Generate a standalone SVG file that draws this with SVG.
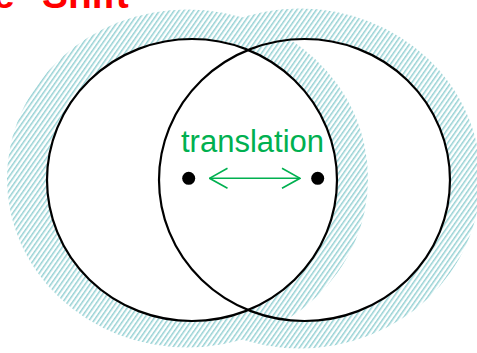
<svg xmlns="http://www.w3.org/2000/svg" width="477" height="353" viewBox="0 0 477 353">
<style>
.hatch{fill:url(#hatch);}
.blank{fill:#ffffff;stroke:none;}
.ring{fill:none;stroke:#000000;stroke-width:2.2;}
.dot{fill:#000000;}
.arrow{fill:none;stroke:#00b050;stroke-width:1.6;}
.label{font-family:"Liberation Sans",Arial,sans-serif;font-size:31px;fill:#00b050;}
.title{font-family:"Liberation Sans",Arial,sans-serif;font-size:39px;font-weight:bold;fill:#ff0000;}
</style>
<defs>
<pattern id="hatch" patternUnits="userSpaceOnUse" width="4" height="10" patternTransform="rotate(35)">
<rect x="0" y="0" width="4" height="10" fill="#ffffff"/>
<rect x="0" y="0" width="1.5" height="10" fill="#96d1d4"/>
</pattern>
<marker id="open" viewBox="0 0 20 22" refX="19" refY="11" markerWidth="20" markerHeight="22" markerUnits="userSpaceOnUse" orient="auto-start-reverse">
<path d="M1,1 L19,11 L1,21" fill="none" stroke="#00b050" stroke-width="1.6"/>
</marker>
</defs>
<text class="title" y="8"><tspan x="-7">e</tspan><tspan x="42">Shift</tspan></text>
<g id="shape-right-hatch">
<ellipse class="hatch" cx="300" cy="178.5" rx="180.5" ry="170"/>
<ellipse class="blank" cx="304.5" cy="180" rx="145.5" ry="141"/>
</g>
<g id="shape-left-hatch">
<ellipse class="hatch" cx="187.5" cy="178.5" rx="180.5" ry="169"/>
<ellipse class="blank" cx="192" cy="180" rx="145" ry="141"/>
</g>
<g id="circle-left">
<ellipse class="ring" cx="192" cy="180" rx="145" ry="141"/>
<circle class="dot" cx="188.7" cy="178.3" r="6.5"/>
</g>
<g id="circle-right">
<ellipse class="ring" cx="304.5" cy="180" rx="145.5" ry="141"/>
<circle class="dot" cx="317.7" cy="178.3" r="6.5"/>
</g>
<g id="connectors">
<line class="arrow" x1="209.5" y1="178.3" x2="300" y2="178.3" marker-start="url(#open)" marker-end="url(#open)"/>
</g>
<g id="label-translation">
<text class="label" x="252.5" y="152" text-anchor="middle">translation</text>
</g>
</svg>
